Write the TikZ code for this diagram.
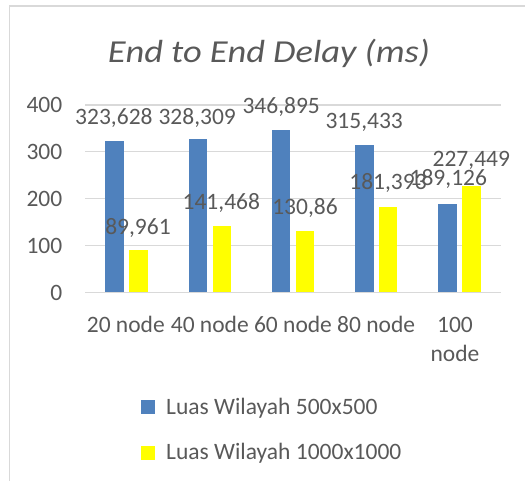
\documentclass[tikz,border=0pt]{standalone}
\usepackage{fontspec}
\setmainfont{Carlito}
\newfontfamily\titlefont[FakeStretch=1.14]{Carlito}
\definecolor{barblue}{HTML}{4F81BD}
\definecolor{baryellow}{HTML}{FFFF00}
\definecolor{txtgrey}{HTML}{595959}
\definecolor{gridgrey}{HTML}{D9D9D9}
\definecolor{framegrey}{HTML}{D9D9D9}
\begin{document}
\begin{tikzpicture}[x=1pt,y=-1pt,
  lbl/.style={text=txtgrey,font=\fontsize{23.5}{28}\selectfont,inner sep=0pt},
  ttl/.style={text=txtgrey,font=\titlefont\fontsize{32}{38}\selectfont\itshape,inner sep=0pt},
  gridline/.style={draw=gridgrey,line width=1.3pt},
  framebox/.style={draw=framegrey,line width=1.3pt}]
\useasboundingbox (0,0) rectangle (525,481);
% frame (partly visible)
\draw[framebox] (9.3,482) -- (9.3,6) -- (526,6);
% title
\node[ttl,anchor=base] (title) at (269,62.3) {End to End Delay (ms)};
% gridlines and y labels
\foreach \v/\nm in {0/a,100/b,200/c,300/d,400/e}{
  \pgfmathsetmacro{\yy}{292.3-0.46825*\v}
  \draw[gridline] (85,\yy) -- (501,\yy);
  \node[lbl,anchor=base east] (y\nm) at (62.5,\yy+8) {\v};
}
% bars
\foreach \c/\b/\yv in {126.6/323.628/89.961, 209.8/328.309/141.468, 293.0/346.895/130.86, 376.2/315.433/181.393, 459.4/189.126/227.449}{
  \fill[barblue] (\c-21.2,292.3) rectangle (\c-2.7,292.3-0.46825*\b);
  \fill[baryellow] (\c+2.7,292.3) rectangle (\c+21.2,292.3-0.46825*\yv);
}
% data labels
\node[lbl,anchor=base] (l1) at (113.9,124.1) {323,628};
\node[lbl,anchor=base] (l2) at (197.2,124.1) {328,309};
\node[lbl,anchor=base] (l3) at (281.2,113.1) {346,895};
\node[lbl,anchor=base] (l4) at (364.2,128.1) {315,433};
\node[lbl,anchor=base] (l5) at (448.3,186.0) {189,126};
\node[lbl,anchor=base] (m1) at (138.0,234.1) {89,961};
\node[lbl,anchor=base] (m2) at (221.3,209.1) {141,468};
\node[lbl,anchor=base] (m3) at (305.0,214.1) {130,86};
\node[lbl,anchor=base] (m4) at (388.0,189.5) {181,393};
\node[lbl,anchor=base] (m5) at (471.3,166.5) {227,449};
% category labels
\node[lbl,anchor=base] (c1) at (125.8,332) {20 node};
\node[lbl,anchor=base] (c2) at (209.8,332) {40 node};
\node[lbl,anchor=base] (c3) at (293.0,332) {60 node};
\node[lbl,anchor=base] (c4) at (376.2,332) {80 node};
\node[lbl,anchor=base] (c5a) at (455,332) {100};
\node[lbl,anchor=base] (c5b) at (455,361) {node};
% legend
\fill[barblue] (141.3,400) rectangle (155.3,414);
\node[lbl,anchor=base west] (leg1) at (166,414) {Luas Wilayah 500x500};
\fill[baryellow] (141.3,445.7) rectangle (155.3,459.5);
\node[lbl,anchor=base west] (leg2) at (166,459.5) {Luas Wilayah 1000x1000};
\end{tikzpicture}
\end{document}
